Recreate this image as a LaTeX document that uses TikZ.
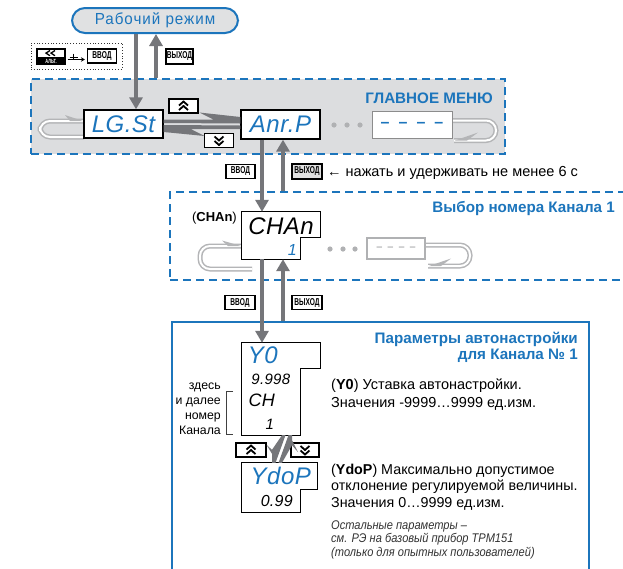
\documentclass[tikz,border=0pt]{standalone}
\usepackage{fontspec}
\setmainfont{Liberation Sans}
\newfontfamily\keyfont{Liberation Sans}[FakeStretch=0.66]
\newfontfamily\notefont{Liberation Sans}[FakeStretch=0.88]
\newfontfamily\segfont{Liberation Sans}[LetterSpace=2]
\newfontfamily\pillfont{Liberation Sans}[FakeStretch=0.95,LetterSpace=6]
\usetikzlibrary{arrows.meta,calc}
\definecolor{owblue}{HTML}{1C75BC}
\definecolor{menugray}{HTML}{DCDDDF}
\definecolor{arrgray}{HTML}{75767A}
\definecolor{loopgray}{HTML}{B4B5B7}
\definecolor{pillfill}{HTML}{E0E1E2}
\definecolor{lightframe}{HTML}{B0B1B3}
\tikzset{
  frameblue/.style={draw=owblue, line width=2pt},
  dashblue/.style={frameblue, dash pattern=on 8pt off 5pt},
  disp/.style={draw=black, line width=1.3pt, fill=white, inner sep=0pt},
  seg/.style={inner sep=0pt, font=\segfont\itshape\fontsize{#1}{#1}\selectfont},
  seg/.default=24,
  keybox/.style={draw=black, line width=1.2pt, fill=white, inner sep=0pt,
    minimum width=29pt, minimum height=14pt,
    font=\keyfont\bfseries\fontsize{10}{10}\selectfont},
  upkey/.style={path picture={
    \draw[line width=1.8pt, line join=miter]
      ($(path picture bounding box.center)+(-4.5,-0.5)$) -- ++(4.5,-4) -- ++(4.5,4);
    \draw[line width=1.8pt, line join=miter]
      ($(path picture bounding box.center)+(-4.5,4)$) -- ++(4.5,-4) -- ++(4.5,4);}},
  downkey/.style={path picture={
    \draw[line width=1.8pt, line join=miter]
      ($(path picture bounding box.center)+(-4.5,-4)$) -- ++(4.5,4) -- ++(4.5,-4);
    \draw[line width=1.8pt, line join=miter]
      ($(path picture bounding box.center)+(-4.5,0.5)$) -- ++(4.5,4) -- ++(4.5,-4);}},
  varrow/.style={draw=arrgray, line width=4.5pt, -{Triangle[length=12pt,width=13pt]}},
  harp/.style={fill=arrgray},
  loopline/.style={draw=loopgray, line width=1.5pt, double=white, double distance=2pt, rounded corners=10pt},
  barb/.style={fill=loopgray},
  txt/.style={inner sep=0pt},
  title/.style={txt, text=owblue, font=\bfseries\fontsize{15.2}{16}\selectfont},
}
\begin{document}
\begin{tikzpicture}[x=1pt,y=-1pt]
\path[use as bounding box] (0,0) rectangle (623,568);
\clip (0,0) rectangle (623,568);
\fill[white] (0,0) rectangle (623,568);

% ---------- frames ----------
\node[frameblue, fill=pillfill, rounded corners=13pt, minimum width=166pt, minimum height=25pt,
      inner sep=0pt, text=owblue, font=\pillfont\fontsize{16}{16}\selectfont] (work) at (155,20.5) {Рабочий режим};
\node[draw=black!80, dotted, line width=0.8pt, minimum width=91pt, minimum height=26pt, inner sep=0pt] (dotbox) at (76.5,56) {};
\node[dashblue, fill=menugray, minimum width=474pt, minimum height=75pt, inner sep=0pt] (menu) at (268,116.5) {};
\node[dashblue, minimum width=470pt, minimum height=88pt, inner sep=0pt] (chbox) at (405,236) {};
\node[frameblue, minimum width=417pt, minimum height=260pt, inner sep=0pt] (parbox) at (380.5,452) {};

% ---------- loops ----------
\coordinate (lgw) at (84,124);
\draw[loopline] ($(lgw)+(0,13)$) -- ++(-44,0) -- ++(0,-16) -- ($(lgw)+(0,-3)$);
\fill[barb] ($(lgw)+(-19,-9)$) -- ($(lgw)+(-1,-3)$) -- ($(lgw)+(-14,-3)$) -- cycle;
\coordinate (dse) at (452,124.5);
\draw[loopline] ($(dse)+(0,-4)$) -- ++(44,0) -- ++(0,20) -- ($(dse)+(2,16)$);
\fill[barb] ($(dse)+(26,8)$) -- ($(dse)+(3,16)$) -- ($(dse)+(15,16)$) -- cycle;
\coordinate (chw) at (242,235.5);
\draw[loopline] ($(chw)+(10,33.5)$) -- ++(-52,0) -- ++(0,-23) -- ($(chw)+(0,10.5)$);
\fill[barb] ($(chw)+(-20,5)$) -- ($(chw)+(-1,10.5)$) -- ($(chw)+(-14,10.5)$) -- cycle;
\coordinate (d2e) at (425,248.5);
\draw[loopline] ($(d2e)+(0,-3.5)$) -- ++(45,0) -- ++(0,21) -- ($(d2e)+(3,17.5)$);
\fill[barb] ($(d2e)+(26,10)$) -- ($(d2e)+(4,17.5)$) -- ($(d2e)+(16,17.5)$) -- cycle;

% ---------- displays ----------
\node[disp, seg, text=owblue, minimum width=79pt, minimum height=28pt] (lgst) at (123.5,124) {LG.St};
\node[disp, seg, text=owblue, minimum width=79pt, minimum height=29pt] (anrp) at (280.5,124.5) {Anr.P};
\node[draw=black!45, line width=1pt, fill=white, inner sep=0pt, minimum width=80pt, minimum height=27pt,
      text=owblue, font=\bfseries\fontsize{16}{16}\selectfont] (dashd) at (412,124.5) {–\hspace{9pt}–\hspace{9pt}–\hspace{9pt}–};
\foreach \x in {334,347,360} \fill[lightframe] (\x,125) circle (2.6pt);

\node[inner sep=0pt, minimum width=78pt, minimum height=47pt] (chan) at (281,235.5) {};
\draw[disp] (chan.north west) -- (chan.north east) -- ($(chan.north east)+(0,26)$) -- ($(chan.north east)+(-20,26)$)
  -- ($(chan.south east)+(-20,0)$) -- (chan.south west) -- cycle;
\node[seg] (chantxt) at ($(chan.north)+(0,14)$) {CHAn};
\node[seg=16, text=owblue] (chan1) at ($(chan.north east)+(-28,38)$) {1};
\node[draw=lightframe, line width=1.2pt, fill=white, inner sep=0pt, minimum width=58pt, minimum height=21pt,
      text=lightframe, font=\bfseries\fontsize{11}{11}\selectfont] (dashd2) at (396,248.5) {–\hspace{5pt}–\hspace{5pt}–\hspace{5pt}–};
\foreach \x in {330,343,355} \fill[lightframe] (\x,249) circle (2.6pt);

\node[inner sep=0pt, minimum width=78pt, minimum height=92pt] (y0) at (281,389) {};
\draw[disp] (y0.north west) -- (y0.north east) -- ($(y0.north east)+(0,26)$) -- ($(y0.north east)+(-20,26)$)
  -- ($(y0.south east)+(-20,0)$) -- (y0.south west) -- cycle;
\node[seg, text=owblue] (y0a) at ($(y0.north west)+(21,12)$) {Y0};
\node[seg=15] (y0b) at ($(y0.north west)+(29,37)$) {9.998};
\node[seg=18] (y0c) at ($(y0.north west)+(20,57)$) {CH};
\node[seg=15] (y0d) at ($(y0.north west)+(28,82)$) {1};

\node[inner sep=0pt, minimum width=75pt, minimum height=49pt] (ydop) at (279.5,487.5) {};
\draw[disp] (ydop.north west) -- (ydop.north east) -- ($(ydop.north east)+(0,27)$) -- ($(ydop.north east)+(-17,27)$)
  -- ($(ydop.south east)+(-17,0)$) -- (ydop.south west) -- cycle;
\node[seg, text=owblue] (ydopa) at ($(ydop.north west)+(39,13)$) {YdoP};
\node[seg=16] (ydopb) at ($(ydop.north west)+(35,38)$) {0.99};

% ---------- keys ----------
\node[draw=black, line width=1.2pt, fill=black, minimum width=28pt, minimum height=16pt, inner sep=0pt] (alt) at (51,56.5) {};
\fill[white] ($(alt.north west)+(1.8,1.8)$) rectangle ($(alt.north east)+(-1.8,9)$);
\coordinate (altc) at ($(alt.north)+(0,5.2)$);
\draw[line width=1.3pt] ($(altc)+(-1,-2.6)$) -- ($(altc)+(-5,0)$) -- ($(altc)+(-1,2.6)$);
\draw[line width=1.3pt] ($(altc)+(4,-2.6)$) -- ($(altc)+(0,0)$) -- ($(altc)+(4,2.6)$);
\node[txt, text=white, font=\keyfont\bfseries\fontsize{6}{6}\selectfont] (alttxt) at ($(alt.south)+(0,-3.6)$) {АЛЬТ.};
\node[keybox] (vvod0) at (102,56) {ВВОД};
\draw[line width=0.8pt, -{Stealth[length=4pt,width=4.5pt]}] ($(alt.east)+(2,3)$) -- ($(vvod0.west)+(-2,3.5)$);
\draw[line width=0.8pt] ($(alt.east)+(8,-3)$) -- ++(0,6.5);
\draw[line width=0.8pt] ($(alt.east)+(4,0.5)$) -- ++(8,0);

\node[keybox, minimum width=27pt, minimum height=15pt] (vyh0) at (179.5,56.5) {ВЫХОД};
\node[keybox, upkey] (up1) at (183.5,106) {};
\node[keybox, downkey] (dn1) at (219,140.5) {};
\node[keybox] (vvod1) at (240.5,171.5) {ВВОД};
\node[keybox, fill=black!12, minimum width=30pt, minimum height=15pt] (vyh1) at (307,171.5) {ВЫХОД};
\node[keybox, minimum width=30pt] (vvod2) at (240,302.5) {ВВОД};
\node[keybox, minimum width=30pt] (vyh2) at (307,302.5) {ВЫХОД};
\node[keybox, upkey, minimum width=30pt] (up3) at (251,450) {};
\node[keybox, downkey, minimum width=28pt] (dn3) at (305,450) {};

% ---------- arrows ----------
\draw[varrow] ($(work.south)+(-19,0)$) -- ($(lgst.north)+(12.5,0)$);
\draw[varrow] ($(menu.north)+(-112,0)$) -- ($(work.south)+(1,0)$);
\draw[varrow] ($(anrp.south)+(-18.5,0)$) -- ($(chan.north)+(-19,0)$);
\draw[varrow] ($(chbox.north)+(-122,0)$) -- ($(anrp.south)+(2.5,0)$);
\draw[varrow] ($(chan.south)+(-19,0)$) -- ($(y0.north)+(-19,0)$);
\draw[varrow] ($(parbox.north)+(-97.5,0)$) -- ($(chan.south)+(2,0)$);

% harpoons LG.St <-> Anr.P
\fill[harp] ($(lgst.east)+(0,-4.5)$) -- ($(anrp.west)+(-27,-5)$) -- ($(anrp.west)+(-41,-12)$)
  -- ($(anrp.west)+(0,-7.5)$) -- ($(anrp.west)+(0,-1)$) -- ($(lgst.east)+(0,-1)$) -- cycle;
\fill[harp] ($(lgst.east)+(0,1)$) -- ($(anrp.west)+(0,1)$) -- ($(anrp.west)+(0,4.5)$)
  -- ($(lgst.east)+(27,5)$) -- ($(lgst.east)+(41,12)$) -- ($(lgst.east)+(0,8)$) -- cycle;
% harpoons Y0 <-> YdoP
\fill[harp] ($(y0.south)+(1,0)$) -- ($(y0.south)+(4.5,0)$) -- ($(ydop.north)+(-4,0)$) -- ($(ydop.north)+(-7.5,0)$)
  -- ($(ydop.north)+(-7.5,-9)$) -- ($(ydop.north)+(-13,-18)$) -- ($(ydop.north)+(-7.5,-13)$) -- cycle;
\fill[harp] ($(ydop.north)+(-1,0)$) -- ($(ydop.north)+(2.5,0)$) -- ($(y0.south)+(11,10)$) -- ($(y0.south)+(17,17)$)
  -- ($(y0.south)+(11,5)$) -- ($(y0.south)+(11,0)$) -- ($(y0.south)+(7.5,0)$) -- cycle;

% ---------- texts ----------
\node[title, anchor=base east] (menutitle) at (493,103) {ГЛАВНОЕ МЕНЮ};
\node[title, anchor=base east] (chtitle) at (615,212) {Выбор номера Канала 1};
\node[title, anchor=base east] (partitle) at (578,343)
  {\begin{tabular}[t]{@{}r@{}}Параметры автонастройки\\для Канала № 1\end{tabular}};
\node[txt, anchor=base west, font=\fontsize{14.5}{16}\selectfont] (hold) at (327,176) {← нажать и удерживать не менее 6 с};
\node[txt, anchor=base east, font=\fontsize{13}{13}\selectfont] (chanlbl) at (237,221) {(\textbf{CHAn})};
\node[txt, anchor=base east, font=\fontsize{12.3}{15.3}\selectfont] (note) at (221,389)
  {\begin{tabular}[t]{@{}r@{}}здесь\\и далее\\номер\\Канала\end{tabular}};
\draw[black!75, line width=0.7pt] (233,391) -- (226,391) -- (226,434) -- (233,434);
\node[txt, anchor=base west, font=\fontsize{14.5}{18}\selectfont] (y0txt) at (331,389)
  {\begin{tabular}[t]{@{}l@{}}(\textbf{Y0}) Уставка автонастройки.\\Значения -9999…9999 ед.изм.\end{tabular}};
\node[txt, anchor=base west, font=\fontsize{14.3}{16.7}\selectfont] (ydoptxt) at (331,474)
  {\begin{tabular}[t]{@{}l@{}}(\textbf{YdoP}) Максимально допустимое\\отклонение регулируемой величины.\\Значения 0…9999 ед.изм.\end{tabular}};
\node[txt, anchor=base west, text=black!80, font=\notefont\itshape\fontsize{12.6}{13.5}\selectfont] (resttxt) at (331,529)
  {\begin{tabular}[t]{@{}l@{}}Остальные параметры –\\см. РЭ на базовый прибор ТРМ151\\(только для опытных пользователей)\end{tabular}};
\end{tikzpicture}
\end{document}
